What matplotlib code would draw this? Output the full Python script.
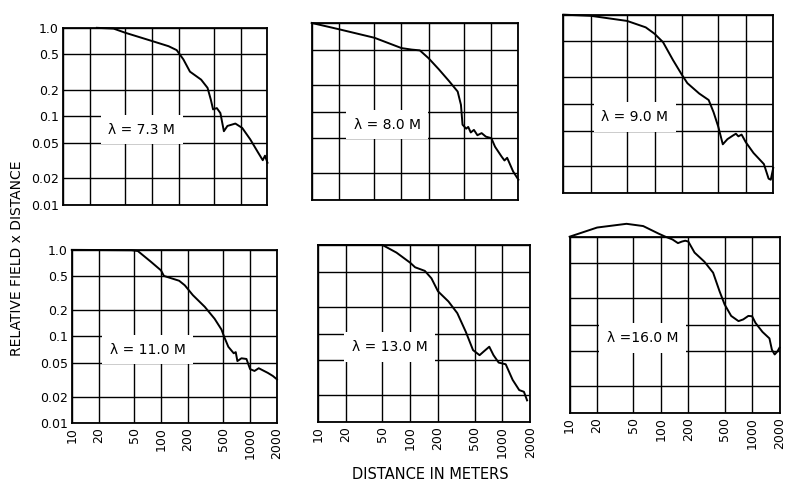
import numpy as np
import matplotlib
matplotlib.use("Agg")
from matplotlib import pyplot as plt

x_ticks = [10, 20, 50, 100, 200, 500, 1000, 2000]
y_ticks = [1.0, 0.5, 0.2, 0.1, 0.05, 0.02, 0.01]
y_labels = ["1.0", "0.5", "0.2", "0.1", "0.05", "0.02", "0.01"]

# lambda = 7.3 M
d1 = [24, 37, 50, 100, 154, 190, 226, 268, 358, 423, 460, 488, 538, 590, 646, 708, 870, 1040, 1280, 1570, 1770, 1875, 2000]
f1 = [1.0, 0.98, 0.88, 0.71, 0.62, 0.56, 0.44, 0.32, 0.26, 0.21, 0.155, 0.12, 0.124, 0.109, 0.068, 0.078, 0.083, 0.074, 0.055, 0.039, 0.032, 0.036, 0.030]
# lambda = 8.0 M
d2 = [10, 20, 50, 100, 130, 160, 200, 260, 339, 422, 459, 478, 525, 553, 590, 640, 700, 780, 870, 1000, 1100, 1300, 1400, 1500, 1750, 2000]
f2 = [1.0, 0.85, 0.68, 0.52, 0.5, 0.49, 0.40, 0.30, 0.22, 0.168, 0.119, 0.071, 0.064, 0.067, 0.058, 0.062, 0.054, 0.057, 0.052, 0.05, 0.04, 0.031, 0.028, 0.03, 0.021, 0.017]
# lambda = 9.0 M
d3 = [10, 20, 50, 80, 100, 124, 159, 200, 229, 309, 392, 444, 500, 560, 630, 725, 780, 830, 900, 1000, 1215, 1580, 1780, 1880, 2000]
f3 = [1.0, 0.97, 0.85, 0.72, 0.61, 0.49, 0.31, 0.21, 0.17, 0.13, 0.11, 0.08, 0.055, 0.035, 0.04, 0.044, 0.046, 0.043, 0.045, 0.037, 0.028, 0.021, 0.0144, 0.014, 0.019]
# lambda = 11.0 M
d4 = [10, 47, 55, 77, 100, 108, 160, 185, 228, 310, 400, 478, 510, 570, 655, 690, 720, 800, 910, 1000, 1120, 1250, 1580, 1800, 2000]
f4 = [1.0, 0.99, 0.97, 0.73, 0.58, 0.5, 0.44, 0.39, 0.30, 0.22, 0.16, 0.12, 0.1, 0.076, 0.064, 0.066, 0.052, 0.056, 0.055, 0.042, 0.040, 0.043, 0.038, 0.035, 0.032]
# lambda = 13.0 M
d5 = [10, 50, 71, 100, 113, 144, 170, 200, 260, 324, 400, 480, 565, 630, 720, 800, 910, 1085, 1290, 1520, 1710, 1850]
f5 = [1.0, 1.0, 0.82, 0.63, 0.56, 0.51, 0.42, 0.30, 0.23, 0.17, 0.105, 0.065, 0.057, 0.063, 0.071, 0.057, 0.047, 0.045, 0.030, 0.023, 0.022, 0.0176]
# lambda = 16.0 M
d6 = [10, 20, 42, 64, 95, 112, 134, 154, 170, 185, 200, 234, 300, 374, 440, 500, 590, 710, 800, 910, 1000, 1090, 1300, 1550, 1650, 1770, 1900, 2000]
f6 = [1.0, 1.27, 1.40, 1.32, 1.08, 1.0, 0.93, 0.845, 0.88, 0.9, 0.88, 0.66, 0.52, 0.39, 0.24, 0.17, 0.126, 0.11, 0.115, 0.126, 0.125, 0.105, 0.083, 0.07, 0.052, 0.046, 0.05, 0.055]

panels = [
    (d1, f1, "λ = 7.3 M", 77, [0.080, 0.580, 0.259, 0.363]),
    (d2, f2, "λ = 8.0 M", 69, [0.395, 0.590, 0.262, 0.363]),
    (d3, f3, "λ = 9.0 M", 61, [0.714, 0.605, 0.266, 0.365]),
    (d4, f4, "λ = 11.0 M", 71, [0.091, 0.133, 0.260, 0.355]),
    (d5, f5, "λ = 13.0 M", 60, [0.403, 0.135, 0.269, 0.363]),
    (d6, f6, "λ =16.0 M", 63, [0.722, 0.154, 0.266, 0.361]),
]

fig = plt.figure(figsize=(7.89, 4.88), dpi=100)

for i, (d, f, lab, lx, rect) in enumerate(panels):
    ax = fig.add_axes(rect)
    ax.set_xscale("log")
    ax.set_yscale("log")
    ax.set_xlim(10, 2000)
    ax.set_ylim(0.01, 1.0)
    ax.set_xticks(x_ticks)
    ax.set_yticks(y_ticks)
    ax.minorticks_off()
    ax.grid(True, color="black", linewidth=1.0)
    ax.set_axisbelow(True)
    for s in ax.spines.values():
        s.set_linewidth(1.3)
    ax.tick_params(length=0, labelsize=9, pad=3)
    if i in (0, 3):
        ax.set_yticklabels(y_labels)
    else:
        ax.set_yticklabels([])
    if i >= 3:
        ax.set_xticklabels([str(t) for t in x_ticks], rotation=90)
    else:
        ax.set_xticklabels([])
    ax.plot(d, f, color="black", linewidth=1.4, clip_on=False, zorder=3)
    ax.text(lx, 0.0707, lab, fontsize=10, ha="center", va="center", zorder=4,
            bbox=dict(facecolor="white", edgecolor="none", pad=5.5))

fig.text(0.022, 0.47, "RELATIVE FIELD x DISTANCE", rotation=90, ha="center", va="center", fontsize=10)
fig.text(0.545, 0.027, "DISTANCE IN METERS", ha="center", va="center", fontsize=10.5)

fig.savefig("out.png", dpi=100, facecolor="white")
